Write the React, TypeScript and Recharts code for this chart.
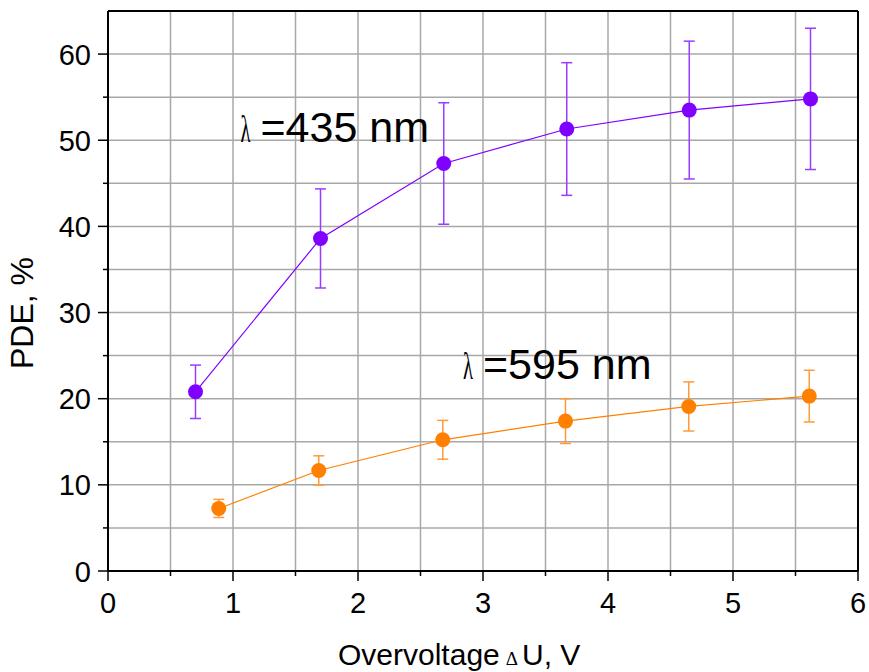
import React from "react";
import {
	LineChart,
	Line,
	XAxis,
	YAxis,
	CartesianGrid,
	ErrorBar,
	ReferenceLine,
	ReferenceDot,
	Label,
} from "recharts";

const font = "'Liberation Sans', Arial, sans-serif";
const serif = "'Liberation Serif', 'Times New Roman', serif";

const violet = "#8000ff";
const violetErrColor = "#9a3cff";
const orange = "#ff8000";
const orangeErrColor = "#ff9a3a";

// axis ticks (majors get labels, minors are short marks only)
const xTicks = [0, 0.5, 1, 1.5, 2, 2.5, 3, 3.5, 4, 4.5, 5, 5.5, 6];
const yTicks = [0, 5, 10, 15, 20, 25, 30, 35, 40, 45, 50, 55, 60];

// λ = 435 nm
const violetU = [0.7, 1.7, 2.686, 3.67, 4.65, 5.62];
const violetPde = [20.8, 38.6, 47.3, 51.3, 53.5, 54.8];
const violetErr = [3.1, 5.75, 7.05, 7.7, 8.0, 8.2];

// λ = 595 nm
const orangeU = [0.886, 1.686, 2.678, 3.66, 4.646, 5.61];
const orangePde = [7.26, 11.67, 15.23, 17.4, 19.1, 20.3];
const orangeErr = [1.05, 1.7, 2.25, 2.6, 2.85, 3.0];

const violetData = violetU.map((u, i) => ({ u, pde: violetPde[i], err: violetErr[i] }));
const orangeData = orangeU.map((u, i) => ({ u, pde: orangePde[i], err: orangeErr[i] }));

const XTick = (props: any) => {
	const { x, y, payload } = props;
	const major = Number.isInteger(payload.value);
	return (
		<g>
			<line x1={x} y1={y} x2={x} y2={y + (major ? 10 : 5)} stroke="#000" strokeWidth={1.5} />
			{major && (
				<text x={x} y={y + 42} textAnchor="middle" fontSize={29} fontFamily={font} fill="#000">
					{payload.value}
				</text>
			)}
		</g>
	);
};

const YTick = (props: any) => {
	const { x, y, payload } = props;
	const major = payload.value % 10 === 0;
	return (
		<g>
			<line x1={x - (major ? 10 : 5)} y1={y} x2={x} y2={y} stroke="#000" strokeWidth={1.5} />
			{major && (
				<text x={x - 17} y={y + 10.5} textAnchor="end" fontSize={29} fontFamily={font} fill="#000">
					{payload.value}
				</text>
			)}
		</g>
	);
};

const XTitle = (props: any) => {
	const { viewBox } = props;
	return (
		<text x={viewBox.x + 230} y={viewBox.y + 94} fontSize={30} fontFamily={font} fill="#000">
			Overvoltage
			<tspan dx={6} fontSize={19} fontFamily={serif}>Δ</tspan>
			<tspan dx={4}>U, V</tspan>
		</text>
	);
};

const YTitle = (props: any) => {
	const { viewBox } = props;
	const cx = viewBox.x + 33;
	const cy = viewBox.y + viewBox.height / 2 + 22;
	return (
		<text x={cx} y={cy} transform={`rotate(-90, ${cx}, ${cy})`} textAnchor="middle" fontSize={32} fontFamily={font} fill="#000">
			PDE, %
		</text>
	);
};

// "λ =xxx nm" annotation anchored at a data point (baseline-left corner)
const lambdaLabel = (text: string) => (props: any) => {
	const { cx, cy } = props;
	return (
		<g>
			<text x={cx} y={cy} fontSize={38} fontFamily={serif} fill="#000" textLength={10} lengthAdjust="spacingAndGlyphs">
				λ
			</text>
			<text x={cx + 20} y={cy} fontSize={43} fontFamily={font} fill="#000">
				{text}
			</text>
		</g>
	);
};

export default function App() {
	return (
		<div style={{ position: "absolute", left: 0, top: 0, background: "#fff" }}>
			<LineChart width={869} height={672} margin={{ top: 11, right: 11, bottom: 0, left: 0 }}>
				<CartesianGrid stroke="#a8a8a8" strokeWidth={1.5} />
				<XAxis
					type="number"
					dataKey="u"
					domain={[0, 6]}
					ticks={xTicks}
					interval={0}
					height={101}
					tickLine={false}
					tickSize={0}
					tickMargin={0}
					axisLine={{ stroke: "#000", strokeWidth: 2 }}
					tick={<XTick />}
				>
					<Label content={<XTitle />} />
				</XAxis>
				<YAxis
					type="number"
					domain={[0, 65]}
					ticks={yTicks}
					interval={0}
					width={108}
					tickLine={false}
					tickSize={0}
					tickMargin={0}
					axisLine={{ stroke: "#000", strokeWidth: 2 }}
					tick={<YTick />}
				>
					<Label content={<YTitle />} />
				</YAxis>
				<ReferenceLine y={65} stroke="#000" strokeWidth={2} />
				<ReferenceLine x={6} stroke="#000" strokeWidth={2} />
				<Line
					data={violetData}
					dataKey="pde"
					stroke={violet}
					strokeWidth={1.2}
					dot={{ r: 7.5, fill: violet, stroke: "none" }}
					activeDot={false}
					isAnimationActive={false}
				>
					<ErrorBar dataKey="err" width={5.5} stroke={violetErrColor} strokeWidth={1.5} direction="y" />
				</Line>
				<Line
					data={orangeData}
					dataKey="pde"
					stroke={orange}
					strokeWidth={1.2}
					dot={{ r: 7.5, fill: orange, stroke: "none" }}
					activeDot={false}
					isAnimationActive={false}
				>
					<ErrorBar dataKey="err" width={5.5} stroke={orangeErrColor} strokeWidth={1.5} direction="y" />
				</Line>
				<ReferenceDot x={1.06} y={49.8} r={1} shape={lambdaLabel("=435 nm")} />
				<ReferenceDot x={2.84} y={22.3} r={1} shape={lambdaLabel("=595 nm")} />
			</LineChart>
		</div>
	);
}
